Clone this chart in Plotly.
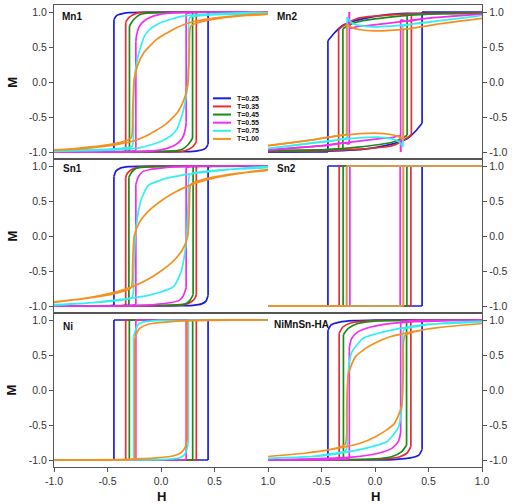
import plotly.graph_objects as go

# ---------------- data (ascending branch of each loop; the descending branch is
# the point-mirror (-H, -M) that the reference loops show) ----------------
temps = ["T=0.25", "T=0.35", "T=0.45", "T=0.55", "T=0.75", "T=1.00"]
colors = ["#1c1cdc", "#e62e2e", "#1a8a1a", "#f22cf2", "#33f0f0", "#f5901e"]
tick_vals = [-1.0, -0.5, 0.0, 0.5, 1.0]
tick_text = ["-1.0", "-0.5", "0.0", "0.5", "1.0"]
x_tick_vals_right = [-0.5, 0.0, 0.5, 1.0]
x_tick_text_right = ["-0.5", "0.0", "0.5", "1.0"]
panel_names = ["Mn1", "Mn2", "Sn1", "Sn2", "Ni", "NiMnSn-HA"]

mn1_h = [
    [-1.0, 0.0, 0.2, 0.3, 0.35, 0.4, 0.42, 0.44, 0.44, 0.5, 0.7, 1.0],
    [-1.0, 0.0, 0.2, 0.26, 0.3, 0.32, 0.33, 0.33, 0.4, 1.0],
    [-1.0, 0.0, 0.15, 0.2, 0.25, 0.28, 0.295, 0.295, 0.4, 1.0],
    [-1.0, -0.2, 0.0, 0.12, 0.18, 0.21, 0.23, 0.235, 0.235, 0.3, 1.0],
    [-1.0, -0.5, -0.2, 0.0, 0.06, 0.1, 0.15, 0.18, 0.21, 0.24, 0.25, 0.26, 0.27, 0.4, 0.6, 1.0],
    [-1.0, -0.8, -0.6, -0.4, -0.25, -0.15, 0.04, 0.16, 0.22, 0.25, 0.265, 0.28, 0.4, 0.55, 0.8, 1.0],
]
mn1_m = [
    [-1.0, -1.0, -0.995, -0.99, -0.98, -0.96, -0.94, -0.89, 0.99, 1.0, 1.0, 1.0],
    [-1.0, -0.995, -0.99, -0.96, -0.92, -0.88, -0.85, 0.99, 1.0, 1.0],
    [-1.0, -0.99, -0.98, -0.96, -0.9, -0.84, -0.8, 0.99, 1.0, 1.0],
    [-1.0, -0.995, -0.97, -0.91, -0.84, -0.77, -0.65, -0.58, 0.98, 0.995, 1.0],
    [-0.99, -0.975, -0.94, -0.85, -0.8, -0.76, -0.67, -0.55, -0.4, -0.15, 0.0, 0.5, 0.92, 0.95, 0.965, 0.98],
    [-0.975, -0.96, -0.93, -0.89, -0.84, -0.78, -0.61, -0.42, -0.23, -0.04, 0.4, 0.8, 0.87, 0.91, 0.95, 0.97],
]

mn2_h = [
    [-1.0, -0.3, -0.1, 0.06, 0.2, 0.31, 0.38, 0.44, 0.44, 0.6, 1.0],
    [-1.0, -0.5, -0.16, 0.16, 0.3, 0.34, 0.34, 0.5, 1.0],
    [-1.0, -0.5, -0.16, 0.16, 0.26, 0.3, 0.3, 0.5, 1.0],
    [-1.0, -0.48, -0.23, 0.05, 0.17, 0.23, 0.24, 0.24, 0.3, 0.48, 1.0],
    [-1.0, -0.63, -0.23, 0.05, 0.2, 0.25, 0.26, 0.26, 0.4, 0.63, 1.0],
    [-1.0, -0.6, -0.3, 0.0, 0.15, 0.22, 0.265, 0.265, 0.4, 0.6, 1.0],
]
mn2_m = [
    [-1.0, -0.98, -0.96, -0.92, -0.87, -0.8, -0.7, -0.59, 1.0, 1.0, 1.0],
    [-0.99, -0.98, -0.96, -0.91, -0.8, -0.75, 0.97, 0.98, 0.99],
    [-0.98, -0.97, -0.93, -0.86, -0.8, -0.76, 0.95, 0.97, 0.98],
    [-0.97, -0.91, -0.86, -0.81, -0.79, -0.77, -1.0, 0.89, 0.87, 0.91, 0.97],
    [-0.95, -0.88, -0.81, -0.79, -0.83, -0.9, -0.93, 0.8, 0.84, 0.88, 0.95],
    [-0.91, -0.83, -0.76, -0.73, -0.75, -0.78, -0.82, 0.75, 0.78, 0.83, 0.91],
]

sn1_h = [
    [-1.0, 0.0, 0.2, 0.3, 0.38, 0.42, 0.44, 0.44, 0.5, 1.0],
    [-1.0, 0.0, 0.2, 0.26, 0.3, 0.32, 0.33, 0.33, 0.4, 1.0],
    [-1.0, 0.0, 0.15, 0.23, 0.27, 0.29, 0.3, 0.3, 0.4, 1.0],
    [-1.0, -0.2, 0.0, 0.1, 0.17, 0.21, 0.235, 0.235, 0.3, 1.0],
    [-1.0, -0.7, -0.45, -0.2, -0.1, 0.0, 0.12, 0.19, 0.22, 0.24, 0.255, 0.27, 0.4, 0.6, 1.0],
    [-1.0, -0.8, -0.57, -0.4, -0.26, -0.1, 0.0, 0.1, 0.2, 0.25, 0.265, 0.28, 0.4, 0.6, 0.8, 1.0],
]
sn1_m = [
    [-1.0, -1.0, -0.995, -0.99, -0.97, -0.93, -0.85, 0.99, 1.0, 1.0],
    [-1.0, -0.995, -0.985, -0.96, -0.92, -0.88, -0.84, 0.99, 1.0, 1.0],
    [-1.0, -0.99, -0.985, -0.97, -0.92, -0.87, -0.84, 0.99, 1.0, 1.0],
    [-1.0, -0.995, -0.97, -0.95, -0.92, -0.85, -0.74, 0.98, 0.995, 1.0],
    [-0.99, -0.96, -0.92, -0.87, -0.84, -0.8, -0.72, -0.5, -0.27, 0.0, 0.5, 0.88, 0.92, 0.95, 0.98],
    [-0.94, -0.91, -0.85, -0.79, -0.72, -0.6, -0.5, -0.38, -0.2, 0.0, 0.4, 0.74, 0.81, 0.87, 0.91, 0.95],
]

sn2_h = [
    [-1.0, 0.44, 0.44, 1.0],
    [-1.0, 0.335, 0.335, 1.0],
    [-1.0, 0.298, 0.298, 1.0],
    [-1.0, 0.235, 0.235, 1.0],
    [-1.0, 0.265, 0.265, 1.0],
    [-1.0, 0.265, 0.265, 1.0],
]
sn2_m = [
    [-1.0, -1.0, 1.0, 1.0],
    [-1.0, -1.0, 1.0, 1.0],
    [-1.0, -1.0, 1.0, 1.0],
    [-1.0, -1.0, 1.0, 1.0],
    [-1.0, -1.0, 1.0, 1.0],
    [-1.0, -1.0, 1.0, 1.0],
]

ni_h = [
    [-1.0, 0.44, 0.44, 1.0],
    [-1.0, 0.33, 0.33, 1.0],
    [-1.0, 0.296, 0.296, 1.0],
    [-1.0, 0.235, 0.235, 1.0],
    [-1.0, 0.0, 0.1, 0.17, 0.2, 0.225, 0.24, 0.255, 0.255, 1.0],
    [-1.0, -0.3, -0.04, 0.12, 0.2, 0.225, 0.245, 0.245, 0.4, 1.0],
]
ni_m = [
    [-1.0, -1.0, 1.0, 1.0],
    [-1.0, -1.0, 1.0, 1.0],
    [-1.0, -1.0, 1.0, 1.0],
    [-1.0, -1.0, 1.0, 1.0],
    [-1.0, -0.995, -0.985, -0.97, -0.95, -0.91, -0.85, -0.76, 1.0, 1.0],
    [-1.0, -0.99, -0.97, -0.94, -0.88, -0.82, -0.72, 0.99, 1.0, 1.0],
]

ha_h = [
    [-1.0, 0.0, 0.2, 0.33, 0.41, 0.44, 0.44, 0.6, 1.0],
    [-1.0, 0.0, 0.22, 0.3, 0.335, 0.335, 0.5, 1.0],
    [-1.0, 0.0, 0.16, 0.25, 0.295, 0.295, 0.5, 1.0],
    [-1.0, -0.21, 0.04, 0.16, 0.22, 0.24, 0.24, 0.4, 1.0],
    [-1.0, -0.5, -0.2, 0.04, 0.11, 0.16, 0.22, 0.25, 0.26, 0.27, 0.4, 0.6, 1.0],
    [-1.0, -0.64, -0.45, -0.14, 0.0, 0.11, 0.18, 0.22, 0.25, 0.265, 0.28, 0.45, 0.64, 1.0],
]
ha_m = [
    [-1.0, -1.0, -0.99, -0.97, -0.93, -0.85, 1.0, 1.0, 1.0],
    [-1.0, -0.99, -0.96, -0.9, -0.81, 0.99, 1.0, 1.0],
    [-1.0, -0.985, -0.95, -0.88, -0.79, 0.99, 1.0, 1.0],
    [-1.0, -0.96, -0.9, -0.83, -0.73, -0.6, 0.98, 0.995, 1.0],
    [-0.975, -0.94, -0.87, -0.78, -0.74, -0.66, -0.53, -0.25, 0.4, 0.86, 0.91, 0.95, 0.98],
    [-0.95, -0.9, -0.86, -0.76, -0.67, -0.57, -0.48, -0.36, -0.22, 0.3, 0.78, 0.86, 0.9, 0.95],
]

panels_h = [mn1_h, mn2_h, sn1_h, sn2_h, ni_h, ha_h]
panels_m = [mn1_m, mn2_m, sn1_m, sn2_m, ni_m, ha_m]

# ---------------- figure ----------------
W, H = 513, 504
ML, MR, MT, MB = 54, 31, 5, 37
fig = go.Figure()

font_family = "Liberation Sans, Arial, sans-serif"
axis_color = "#555555"
row_domains = [[2 / 3, 1.0], [1 / 3, 2 / 3], [0.0, 1 / 3]]
col_domains = [[0.0, 0.5], [0.5, 1.0]]


def split_loop(hs, ms):
    """Full loop = ascending branch + its point mirror; split into smooth
    pieces (drawn as splines) and vertical jumps (drawn straight)."""
    pts = list(zip(hs, ms)) + [(-h, -m) for h, m in zip(hs, ms)]
    smooth_x, smooth_y, jump_x, jump_y = [], [], [], []
    cur = [pts[0]]
    for a, b in zip(pts[:-1], pts[1:]):
        if a[0] == b[0] and abs(a[1] - b[1]) > 0.3:
            jump_x += [a[0], b[0], None]
            jump_y += [a[1], b[1], None]
            smooth_x += [p[0] for p in cur] + [None]
            smooth_y += [p[1] for p in cur] + [None]
            cur = [b]
        else:
            cur.append(b)
    smooth_x += [p[0] for p in cur]
    smooth_y += [p[1] for p in cur]
    return smooth_x, smooth_y, jump_x, jump_y


for p in range(6):
    row, col = divmod(p, 2)
    idx = p + 1
    xn = "x" if idx == 1 else f"x{idx}"
    yn = "y" if idx == 1 else f"y{idx}"
    for k in range(6):
        sx, sy, jx, jy = split_loop(panels_h[p][k], panels_m[p][k])
        fig.add_trace(go.Scatter(
            x=sx, y=sy, mode="lines", xaxis=xn, yaxis=yn, connectgaps=False,
            line=dict(color=colors[k], width=1.7, shape="spline", smoothing=0.6),
            showlegend=False, hoverinfo="skip"))
        if jx:
            fig.add_trace(go.Scatter(
                x=jx, y=jy, mode="lines", xaxis=xn, yaxis=yn, connectgaps=False,
                line=dict(color=colors[k], width=1.7),
                showlegend=False, hoverinfo="skip"))
    bottom = row == 2
    xa = dict(domain=col_domains[col], anchor=yn, range=[-1.0, 1.0],
              showgrid=False, zeroline=False, showline=True, mirror=True,
              linecolor=axis_color, linewidth=1.3,
              ticks="outside" if bottom else "", ticklen=4, tickcolor=axis_color,
              showticklabels=bottom,
              tickvals=(tick_vals if col == 0 else x_tick_vals_right),
              ticktext=(tick_text if col == 0 else x_tick_text_right),
              tickfont=dict(family=font_family, size=10.5, color="#333333"))
    ya = dict(domain=row_domains[row], anchor=xn, range=[-1.1, 1.1],
              side="left" if col == 0 else "right",
              showgrid=False, zeroline=False, showline=True, mirror=False,
              linecolor=axis_color, linewidth=1.3,
              ticks="outside", ticklen=4, tickcolor=axis_color,
              tickvals=tick_vals, ticktext=tick_text,
              tickfont=dict(family=font_family, size=10.5, color="#333333"))
    fig.layout["xaxis" if idx == 1 else f"xaxis{idx}"] = xa
    fig.layout["yaxis" if idx == 1 else f"yaxis{idx}"] = ya

annotations = []
label_pos = [(-0.94, 0.93), (-0.93, 0.93), (-0.93, 0.96), (-0.93, 0.96), (-0.93, 0.91), (-0.96, 0.93)]
for p in range(6):
    idx = p + 1
    annotations.append(dict(
        text=f"<b>{panel_names[p]}</b>", x=label_pos[p][0], y=label_pos[p][1],
        xref="x" if idx == 1 else f"x{idx}", yref="y" if idx == 1 else f"y{idx}",
        xanchor="left", yanchor="middle", showarrow=False,
        font=dict(family=font_family, size=10, color="#111111")))

# M labels
for yc in [0.833, 0.5, 0.1667]:
    annotations.append(dict(
        text="<b>M</b>", x=-0.097, y=yc, xref="paper", yref="paper",
        xanchor="center", yanchor="middle", textangle=-90, showarrow=False,
        font=dict(family=font_family, size=13, color="#111111")))
# H labels
for xc in [0.25, 0.75]:
    annotations.append(dict(
        text="<b>H</b>", x=xc, y=-0.044, xref="paper", yref="paper",
        xanchor="center", yanchor="top", showarrow=False,
        font=dict(family=font_family, size=13, color="#111111")))

# legend (drawn in the Mn1 panel)
shapes = []
leg_y0, leg_dy = -0.233, -0.116
for k in range(6):
    yy = leg_y0 + k * leg_dy
    shapes.append(dict(type="line", xref="x", yref="y", x0=0.486, x1=0.654,
                       y0=yy, y1=yy, line=dict(color=colors[k], width=2)))
    annotations.append(dict(
        text=f"<b>{temps[k]}</b>", x=0.69, y=yy, xref="x", yref="y",
        xanchor="left", yanchor="middle", showarrow=False,
        font=dict(family=font_family, size=7, color="#111111")))

fig.update_layout(
    width=W, height=H, margin=dict(l=ML, r=MR, t=MT, b=MB),
    paper_bgcolor="white", plot_bgcolor="white",
    annotations=annotations, shapes=shapes, showlegend=False)

fig.write_html("out.html")
